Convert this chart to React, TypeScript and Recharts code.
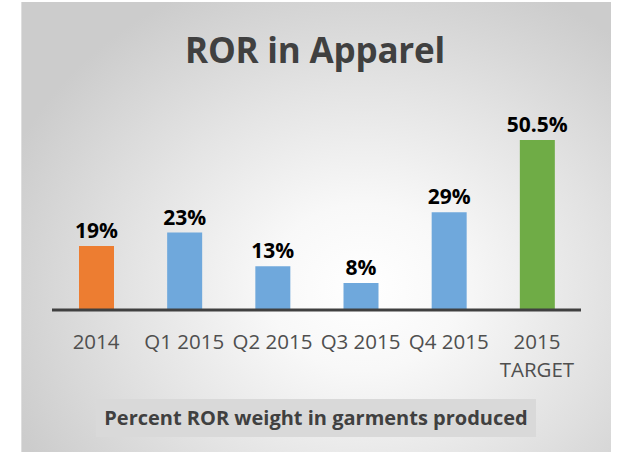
import { Bar, BarChart, Cell, LabelList, XAxis, YAxis } from "recharts";

const categories = ["2014", "Q1 2015", "Q2 2015", "Q3 2015", "Q4 2015", "2015\nTARGET"];
const rorValues = [19, 23, 13, 8, 29, 50.5];
const barColors = ["#ED7D31", "#6FA8DC", "#6FA8DC", "#6FA8DC", "#6FA8DC", "#6FAC46"];

const data = categories.map((name, i) => ({ name, ror: rorValues[i] }));

const FONT = "'Open Sans', sans-serif";

function CategoryTick(props: any) {
  const { x, y, payload } = props;
  const lines = String(payload.value).split("\n");
  return (
    <text x={x} y={y} textAnchor="middle" fill="#4f4f4f" fontSize={20.5} fontFamily={FONT}>
      {lines.map((line, i) => (
        <tspan key={i} x={x} dy={i === 0 ? 39 : 28}>
          {line}
        </tspan>
      ))}
    </text>
  );
}

export default function App() {
  return (
    <div style={{ position: "absolute", left: 0, top: 0, width: 617, height: 452, background: "#fff", overflow: "hidden" }}>
      <div
        style={{
          position: "absolute",
          left: 21,
          top: 2,
          width: 589,
          height: 460,
          borderLeft: "1px solid #dedede",
          background:
            "radial-gradient(ellipse 65% 72% at 58% 62%, #ffffff 0%, #f8f8f8 25%, #e4e4e4 60%, #cccccc 100%)",
        }}
      />
      <div
        style={{
          position: "absolute",
          left: 0,
          top: 26,
          width: 630,
          textAlign: "center",
          fontFamily: FONT,
          fontWeight: 700,
          fontSize: 35,
          letterSpacing: -0.2,
          color: "#404040",
          lineHeight: "48px",
        }}
      >
        ROR in Apparel
      </div>
      <div style={{ position: "absolute", left: 0, top: 0 }}>
        <BarChart width={617} height={452} data={data} margin={{ top: 108, right: 36, bottom: 82, left: 52 }}>
          <YAxis hide domain={[0, 60]} />
          <Bar dataKey="ror" barSize={35} isAnimationActive={false}>
            {data.map((d, i) => (
              <Cell key={d.name} fill={barColors[i]} />
            ))}
            <LabelList
              dataKey="ror"
              position="top"
              offset={8}
              formatter={(v: any) => `${v}%`}
              fill="#000"
              fontSize={21}
              fontWeight={700}
              fontFamily={FONT}
            />
          </Bar>
          <XAxis
            dataKey="name"
            height={60}
            interval={0}
            tickLine={false}
            tickSize={0}
            tickMargin={0}
            axisLine={{ stroke: "#404040", strokeWidth: 3 }}
            tick={<CategoryTick />}
          />
        </BarChart>
      </div>
      <div
        style={{
          position: "absolute",
          left: 96,
          top: 399,
          width: 440,
          height: 38,
          background: "#d9d9d9",
          textAlign: "center",
          fontFamily: FONT,
          fontWeight: 700,
          fontSize: 20,
          lineHeight: "38px",
          color: "#404040",
        }}
      >
        Percent ROR weight in garments produced
      </div>
    </div>
  );
}
